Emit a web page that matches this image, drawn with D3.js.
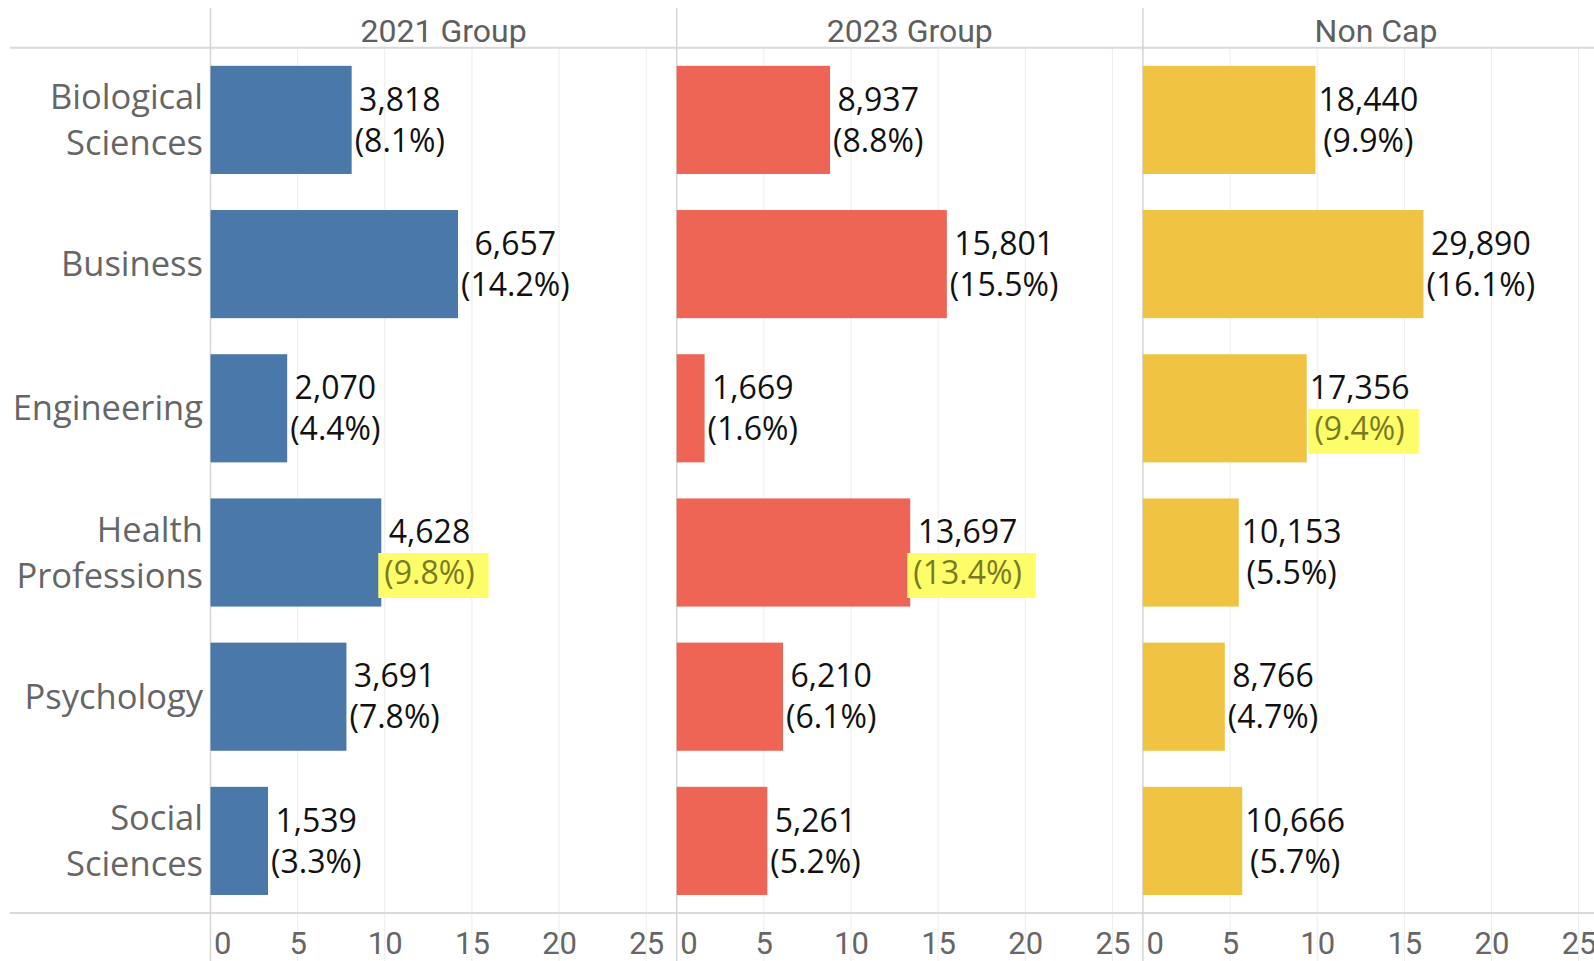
<!DOCTYPE html>
<html>
<head>
<meta charset="utf-8">
<script src="https://cdn.jsdelivr.net/npm/d3@7"></script>
<style>
  html, body { margin: 0; padding: 0; background: #fff; overflow: hidden; }
  svg { display: block; }
</style>
</head>
<body>
<svg id="chart"></svg>
<script>
// Data
const categories = ['Biological Sciences', 'Business', 'Engineering', 'Health Professions', 'Psychology', 'Social Sciences'];
const groups = ['2021 Group', '2023 Group', 'Non Cap'];
const counts2021 = [3818, 6657, 2070, 4628, 3691, 1539];
const pct2021 = [8.1, 14.2, 4.4, 9.8, 7.8, 3.3];
const counts2023 = [8937, 15801, 1669, 13697, 6210, 5261];
const pct2023 = [8.8, 15.5, 1.6, 13.4, 6.1, 5.2];
const countsNonCap = [18440, 29890, 17356, 10153, 8766, 10666];
const pctNonCap = [9.9, 16.1, 9.4, 5.5, 4.7, 5.7];
const xTicks = [0, 5, 10, 15, 20, 25];
// highlighted percentage labels: [group, category]
const highlights = [['2021 Group', 'Health Professions'], ['2023 Group', 'Health Professions'], ['Non Cap', 'Engineering']];

const colors = { '2021 Group': '#4a78a8', '2023 Group': '#ee6455', 'Non Cap': '#f0c442' };

const W = 1594, H = 961;
const plotLeft = 210.5, plotTop = 47.8, plotBottom = 913;
const panelW = 466.2;

const seriesCounts = [counts2021, counts2023, countsNonCap];
const seriesPct = [pct2021, pct2023, pctNonCap];

const svg = d3.select('#chart').attr('width', W).attr('height', H);

const x = d3.scaleLinear().domain([0, 26.75]).range([0, panelW]);
const y = d3.scaleBand().domain(categories).range([plotTop, plotBottom])
  .paddingInner(0.25).paddingOuter(0.125);
const px = d3.scaleBand().domain(groups).range([plotLeft, plotLeft + panelW * 3]);

const grayFont = 'Roboto, "Noto Sans", sans-serif';
const catFont = '"Open Sans", "Noto Sans", sans-serif';
const valueFont = '"Open Sans", "Noto Sans", sans-serif';

// Grid lines
groups.forEach(g => {
  svg.append('g')
    .attr('transform', `translate(${px(g)},0)`)
    .selectAll('line')
    .data(xTicks.filter(t => t > 0))
    .join('line')
    .attr('x1', d => x(d)).attr('x2', d => x(d))
    .attr('y1', plotTop).attr('y2', H)
    .attr('stroke', '#ececec')
    .attr('stroke-width', 1);
});

// Horizontal rules
[plotTop, plotBottom].forEach(yy => {
  svg.append('line')
    .attr('x1', 10).attr('x2', W)
    .attr('y1', yy).attr('y2', yy)
    .attr('stroke', '#d9d9d9').attr('stroke-width', 2);
});

// Panel separators
groups.forEach(g => {
  svg.append('line')
    .attr('x1', px(g)).attr('x2', px(g))
    .attr('y1', 8).attr('y2', H)
    .attr('stroke', '#d4d4d4').attr('stroke-width', 1.5);
});

// Headers
svg.selectAll('.hdr')
  .data(groups)
  .join('text')
  .attr('class', 'hdr')
  .attr('x', d => px(d) + panelW / 2)
  .attr('y', 30.5)
  .attr('dy', '0.35em')
  .attr('text-anchor', 'middle')
  .style('font-family', grayFont)
  .style('font-size', '32px')
  .style('fill', '#5f5f5f')
  .text(d => d);

// Category labels
const cat = svg.selectAll('.cat')
  .data(categories)
  .join('text')
  .attr('class', 'cat')
  .attr('text-anchor', 'end')
  .style('font-family', catFont)
  .style('font-size', '34.5px')
  .style('fill', '#666');

cat.each(function(d) {
  const words = d.split(' ');
  const cy = y(d) + y.bandwidth() / 2;
  const lh = 46;
  const t = d3.select(this);
  words.forEach((w, i) => {
    t.append('tspan')
      .attr('x', 203)
      .attr('y', cy + (i - (words.length - 1) / 2) * lh)
      .attr('dy', '0.35em')
      .text(w);
  });
});

// Bars and labels
const fmt = d3.format(',');
groups.forEach((g, gi) => {
  const panel = svg.append('g').attr('transform', `translate(${px(g)},0)`);
  const rows = categories.map((c, i) => ({ c, count: seriesCounts[gi][i], pct: seriesPct[gi][i] }));

  panel.selectAll('rect.bar')
    .data(rows)
    .join('rect')
    .attr('class', 'bar')
    .attr('x', 0)
    .attr('y', d => y(d.c))
    .attr('width', d => x(d.pct))
    .attr('height', y.bandwidth())
    .attr('fill', colors[g]);

  rows.forEach(d => {
    const cy = y(d.c) + y.bandwidth() / 2;
    const hl = highlights.some(h => h[0] === g && h[1] === d.c);
    const lab = panel.append('g');
    const t1 = lab.append('text')
      .attr('y', cy - 20.5).attr('dy', '0.35em')
      .attr('text-anchor', 'middle')
      .style('font-family', valueFont).style('font-size', '32px').style('fill', '#111')
      .text(fmt(d.count));
    const t2 = lab.append('text')
      .attr('y', cy + 20.5).attr('dy', '0.35em')
      .attr('text-anchor', 'middle')
      .style('font-family', valueFont).style('font-size', '32px')
      .style('fill', hl ? '#7b7a20' : '#111')
      .text(`(${d.pct.toFixed(1)}%)`);
    const w = Math.max(t1.node().getComputedTextLength(), t2.node().getComputedTextLength());
    const cx = x(d.pct) + 3 + w / 2;
    t1.attr('x', cx);
    t2.attr('x', cx);
    if (hl) {
      const w2 = t2.node().getComputedTextLength();
      lab.insert('rect', 'text:last-of-type')
        .attr('x', cx - w2 / 2 - 6)
        .attr('y', cy + 0.5)
        .attr('width', w2 + 20)
        .attr('height', 45)
        .attr('fill', '#fdfd6a');
    }
  });

  // Axis
  const axis = panel.append('g')
    .attr('transform', `translate(0,${plotBottom})`)
    .call(d3.axisBottom(x).tickValues(xTicks).tickSize(0).tickPadding(19));
  axis.select('.domain').remove();
  axis.selectAll('text')
    .style('font-family', grayFont)
    .style('font-size', '31px')
    .style('fill', '#666')
    .attr('text-anchor', d => d === 0 ? 'start' : 'middle')
    .attr('dx', d => d === 0 ? 3 : 0);
});
</script>
</body>
</html>
